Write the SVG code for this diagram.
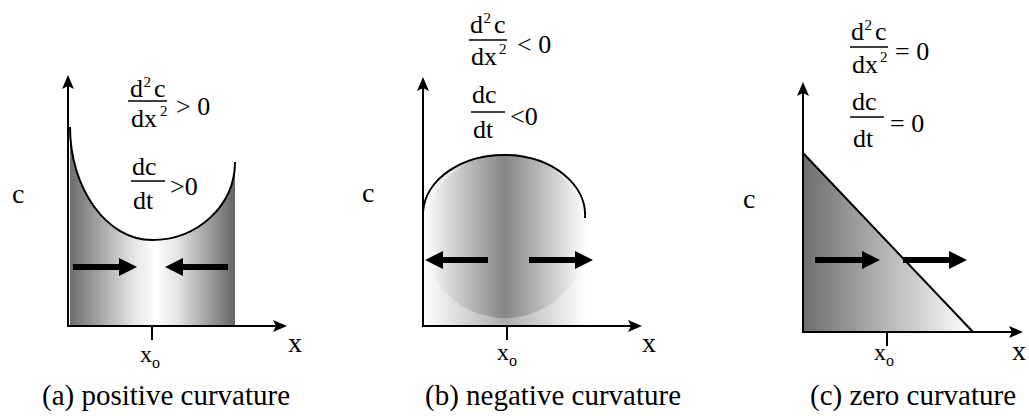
<svg xmlns="http://www.w3.org/2000/svg" width="1029" height="416" viewBox="0 0 1029 416">
<style>
  text { font-family: "Liberation Serif", "Times New Roman", "DejaVu Serif", serif; fill: #000; }
  .m { font-size: 26px; }
  .sup { font-size: 15px; }
  .lbl { font-size: 28px; }
  .xo { font-size: 24px; }
  .sub { font-size: 16px; }
  .cap { font-size: 29px; }
  .axis { stroke: #000; stroke-width: 2; fill: none; marker-end: url(#axhead); }
  .frac { stroke: #000; stroke-width: 1.5; }
  .tick { stroke: #000; stroke-width: 2; }
  .curve { stroke: #000; stroke-width: 2; fill: none; }
  .flux { stroke: #000; stroke-width: 6; fill: none; marker-end: url(#fhead); }
</style>
<defs>
  <marker id="axhead" markerUnits="userSpaceOnUse" viewBox="0 0 14 12" markerWidth="14" markerHeight="12" refX="12" refY="6" orient="auto">
    <path d="M0,0 L14,6 L0,12 L3,6 z" fill="#000"/>
  </marker>
  <marker id="fhead" markerUnits="userSpaceOnUse" viewBox="0 0 18 18" markerWidth="18" markerHeight="18" refX="0" refY="9" orient="auto">
    <path d="M0,0 L18,9 L0,18 z" fill="#000"/>
  </marker>
  <linearGradient id="ga" gradientUnits="userSpaceOnUse" x1="68" y1="0" x2="235" y2="0">
    <stop offset="0" stop-color="#6a6a6a"/>
    <stop offset="0.4" stop-color="#e6e6e6"/>
    <stop offset="0.53" stop-color="#ffffff"/>
    <stop offset="0.66" stop-color="#e2e2e2"/>
    <stop offset="1" stop-color="#646464"/>
  </linearGradient>
  <linearGradient id="gb" gradientUnits="userSpaceOnUse" x1="423" y1="0" x2="587" y2="0">
    <stop offset="0" stop-color="#ffffff"/>
    <stop offset="0.5" stop-color="#777777"/>
    <stop offset="1" stop-color="#ffffff"/>
  </linearGradient>
  <linearGradient id="gc" gradientUnits="userSpaceOnUse" x1="803" y1="0" x2="972" y2="0">
    <stop offset="0" stop-color="#6e6e6e"/>
    <stop offset="1" stop-color="#ffffff"/>
  </linearGradient>
</defs>
<rect width="1029" height="416" fill="#fff"/>

<g id="panel-a" font-family="Liberation Serif, serif">
  <path d="M70,127 C70,189 107,240 152,240 C198,240 235,205 235,162 L235,326 L70,326 Z" fill="url(#ga)"/>
  <path class="curve" d="M70,127 C70,189 107,240 152,240 C198,240 235,205 235,162"/>
  <line class="axis" x1="68" y1="327" x2="68" y2="77"/>
  <line class="axis" x1="67" y1="326" x2="285" y2="326"/>
  <line class="tick" x1="152" y1="326" x2="152" y2="340"/>
  <text class="m" x="130" y="97">d</text><text class="sup" x="143.5" y="87">2</text><text class="m" x="154" y="97">c</text>
  <line class="frac" x1="128" y1="101" x2="167" y2="101"/>
  <text class="m" x="131" y="127">dx</text><text class="sup" x="160" y="116">2</text>
  <text class="m" x="176" y="115">&gt; 0</text>
  <text class="m" x="132" y="175">dc</text>
  <line class="frac" x1="131" y1="181" x2="165" y2="181"/>
  <text class="m" x="133" y="209">dt</text>
  <text class="m" x="170" y="195">&gt;0</text>
  <text class="lbl" x="12" y="203">c</text>
  <text class="lbl" x="288" y="352">x</text>
  <text class="xo" x="140" y="362">x</text><text class="sub" x="152" y="368">o</text>
  <text class="cap" x="42" y="405">(a) positive curvature</text>
</g>

<g id="panel-b" font-family="Liberation Serif, serif">
  <path d="M423,212 A81,60 0 0 1 585,216 L587,326 L423,326 Z" fill="url(#gb)" opacity="0.6"/>
  <circle cx="505" cy="236" r="82" fill="url(#gb)" opacity="0.75"/>
  <path class="curve" d="M423,212 A81,60 0 0 1 585,218"/>
  <line class="axis" x1="423" y1="327" x2="423" y2="79"/>
  <line class="axis" x1="422" y1="326" x2="640" y2="326"/>
  <line class="tick" x1="507" y1="326" x2="507" y2="340"/>
  <text class="m" x="470" y="33">d</text><text class="sup" x="483.5" y="23">2</text><text class="m" x="494" y="33">c</text>
  <line class="frac" x1="469" y1="40" x2="507" y2="40"/>
  <text class="m" x="471" y="65">dx</text><text class="sup" x="499" y="54">2</text>
  <text class="m" x="517" y="53">&lt; 0</text>
  <text class="m" x="472" y="103">dc</text>
  <line class="frac" x1="471" y1="112" x2="505" y2="112"/>
  <text class="m" x="473" y="138">dt</text>
  <text class="m" x="510" y="125">&lt;0</text>
  <text class="lbl" x="362" y="202">c</text>
  <text class="lbl" x="642" y="352">x</text>
  <text class="xo" x="497" y="360">x</text><text class="sub" x="509" y="366">o</text>
  <text class="cap" x="425" y="405">(b) negative curvature</text>
</g>

<g id="panel-c" font-family="Liberation Serif, serif">
  <path d="M803,153 L972,332 L803,332 Z" fill="url(#gc)"/>
  <line class="curve" x1="803" y1="153" x2="973" y2="332"/>
  <line class="axis" x1="803" y1="333" x2="803" y2="84"/>
  <line class="axis" x1="802" y1="332" x2="1021" y2="332"/>
  <line class="tick" x1="887" y1="332" x2="887" y2="346"/>
  <text class="m" x="851" y="40">d</text><text class="sup" x="864.5" y="30">2</text><text class="m" x="875" y="40">c</text>
  <line class="frac" x1="850" y1="47" x2="888" y2="47"/>
  <text class="m" x="852" y="73">dx</text><text class="sup" x="880" y="62">2</text>
  <text class="m" x="895" y="60">= 0</text>
  <text class="m" x="852" y="110">dc</text>
  <line class="frac" x1="850" y1="117" x2="884" y2="117"/>
  <text class="m" x="853" y="147">dt</text>
  <text class="m" x="890" y="132">= 0</text>
  <text class="lbl" x="743" y="208">c</text>
  <text class="lbl" x="1012" y="360">x</text>
  <text class="xo" x="874" y="360">x</text><text class="sub" x="886" y="366">o</text>
  <text class="cap" x="810" y="405">(c) zero curvature</text>
</g>

<g id="connectors">
  <line class="flux" x1="73" y1="267" x2="119" y2="267"/>
  <line class="flux" x1="228" y1="267" x2="183" y2="267"/>
  <line class="flux" x1="488" y1="260" x2="443" y2="260"/>
  <line class="flux" x1="529" y1="260" x2="575" y2="260"/>
  <line class="flux" x1="815" y1="260" x2="862" y2="260"/>
  <line class="flux" x1="903" y1="260" x2="949" y2="260"/>
</g>
</svg>
